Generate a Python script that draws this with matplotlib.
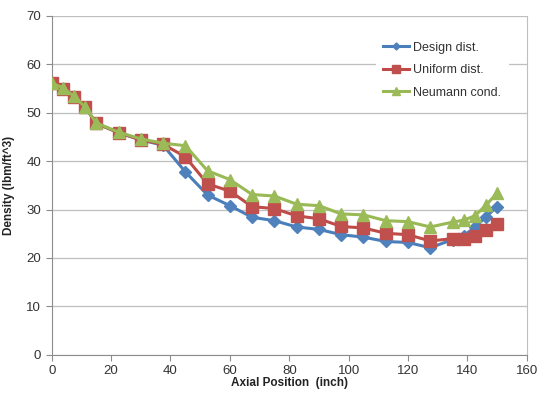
import matplotlib
matplotlib.use("Agg")
import matplotlib.pyplot as plt

# axial positions (inch)
axial = [0, 3.75, 7.5, 11.25, 15, 22.5, 30, 37.5, 45, 52.5, 60, 67.5, 75, 82.5,
         90, 97.5, 105, 112.5, 120, 127.5, 135, 138.75, 142.5, 146.25, 150]

design = [56.1, 55.0, 53.3, 51.2, 47.8, 45.9, 44.4, 43.3, 37.8, 33.0, 30.8, 28.4, 27.7,
          26.4, 25.9, 24.8, 24.3, 23.4, 23.2, 22.1, 23.8, 24.6, 26.3, 28.5, 30.6]
uniform = [56.1, 55.0, 53.3, 51.2, 47.8, 45.9, 44.4, 43.5, 40.9, 35.3, 33.8, 30.6, 30.2,
           28.7, 28.1, 26.5, 26.2, 25.1, 24.8, 23.5, 24.0, 24.0, 24.6, 25.8, 27.0]
neumann = [56.1, 55.2, 53.4, 51.2, 47.9, 46.0, 44.6, 43.7, 43.2, 38.0, 36.2, 33.1, 32.8,
           31.1, 30.8, 29.1, 28.9, 27.7, 27.5, 26.4, 27.4, 27.8, 28.7, 30.9, 33.4]

labels = ["Design dist.", "Uniform dist.", "Neumann cond."]

plt.rcParams['font.family'] = ['Liberation Sans', 'DejaVu Sans']

fig = plt.figure(figsize=(5.37, 3.94), dpi=100)
ax = fig.add_axes([0.0963, 0.0997, 0.8847, 0.8597])

ax.plot(axial, design, color="#4A7EBB", lw=2.2, marker="D", ms=6,
        mfc="#4F81BD", mec="#4F81BD", label=labels[0], zorder=3)
ax.plot(axial, uniform, color="#BE4B48", lw=2.2, marker="s", ms=8.5,
        mfc="#C0504D", mec="#C0504D", label=labels[1], zorder=4)
ax.plot(axial, neumann, color="#98B954", lw=2.2, marker="^", ms=8.5,
        mfc="#9BBB59", mec="#9BBB59", label=labels[2], zorder=5)

ax.set_xlim(0, 160)
ax.set_ylim(0, 70)
ax.set_xticks(range(0, 161, 20))
ax.set_yticks(range(0, 71, 10))
ax.yaxis.grid(True, color="#BFBFBF", lw=0.9)
ax.set_axisbelow(True)

for s in ["left", "bottom"]:
    ax.spines[s].set_color("#8C8C8C")
for s in ["top", "right"]:
    ax.spines[s].set_color("#BFBFBF")
ax.spines["top"].set_visible(False)
ax.tick_params(axis="both", colors="#8C8C8C", labelcolor="#333333",
               labelsize=9.5, length=4, direction="out")

ax.set_xlabel("Axial Position  (inch)", fontsize=8.5, fontweight="bold",
              labelpad=0, color="#222222")
ax.set_ylabel("Density (lbm/ft^3)", fontsize=8.5, fontweight="bold",
              labelpad=8, color="#222222")

leg = ax.legend(loc="upper right", bbox_to_anchor=(0.975, 0.965), frameon=True,
                fontsize=9, handlelength=2.1, handletextpad=0.3, markerscale=0.6,
                labelspacing=0.85, borderpad=0.6)
leg.get_frame().set_facecolor("white")
leg.get_frame().set_edgecolor("none")
leg.get_frame().set_alpha(1)
for t in leg.get_texts():
    t.set_color("#333333")

fig.savefig("out.png", dpi=100)
